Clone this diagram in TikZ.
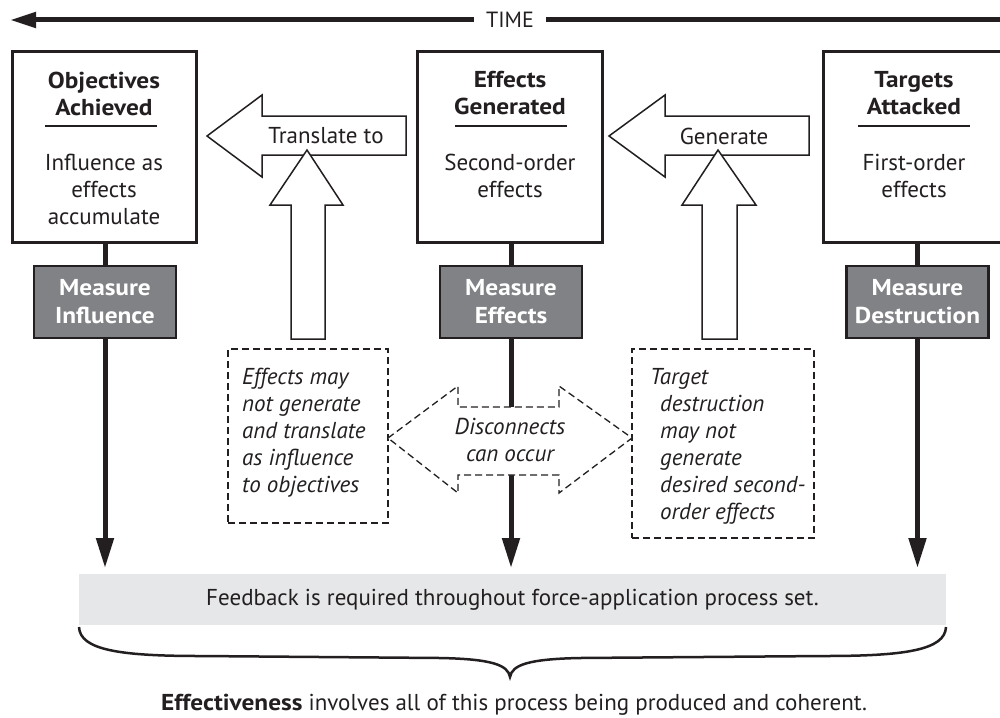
\documentclass[tikz,border=0pt]{standalone}
\usepackage{fontspec}
\setmainfont{PT Sans}[BoldFeatures={FakeStretch=1.1}]
\usetikzlibrary{arrows.meta}
\definecolor{ink}{HTML}{231F20}
\definecolor{measuregray}{HTML}{808285}
\definecolor{feedgray}{HTML}{E6E7E8}
\begin{document}
\begin{tikzpicture}[x=1pt,y=-1pt,
  txt/.style={font=\fontsize{23}{27}\selectfont, text=ink, inner sep=0pt, align=center},
  titletxt/.style={txt, font=\fontsize{23}{27}\selectfont\bfseries},
  notetxt/.style={txt, font=\fontsize{23}{27}\selectfont\itshape, align=left},
  stagebox/.style={draw=ink, line width=3pt, fill=white, minimum height=190pt},
  measurebox/.style={draw=ink, line width=2.5pt, fill=measuregray, text=white,
    font=\fontsize{23}{28}\selectfont\bfseries, align=center, inner sep=0pt,
    minimum width=142pt, minimum height=72pt},
  blockarrow/.style={draw=ink, line width=1.5pt, fill=white, line join=miter},
  dashline/.style={draw=ink, line width=1.3pt, dash pattern=on 7pt off 4pt},
  stem/.style={draw=ink, line width=5pt},
  downtip/.style={stem, -{Triangle[length=30pt,width=17pt]}},
  rule/.style={draw=ink, line width=2pt}
]
\useasboundingbox (0,0) rectangle (1000,717);

% ---- time axis ----
\node[txt, font=\fontsize{22}{27}\selectfont, inner xsep=12pt] (time) at (510,20) {TIME};
\draw[stem, -{Triangle[length=26pt,width=15pt]}] (time.west) -- (10,20);
\draw[stem] (time.east) -- (1000,20);

% ---- stage boxes ----
\node[stagebox, minimum width=184pt] (b1) at (104,147) {};
\node[stagebox, minimum width=185pt] (b2) at (509.5,147) {};
\node[stagebox, minimum width=182pt] (b3) at (914,147) {};

\node[titletxt] (t1) at (104,93.5) {Objectives\\Achieved};
\node[titletxt] (t2) at (510,93.5) {Effects\\Generated};
\node[titletxt] (t3) at (914,93.5) {Targets\\Attacked};
\draw[rule] (45,126) -- (157,126);
\draw[rule] (455,126) -- (567,126);
\draw[rule] (858,126) -- (970,126);

\node[txt] (d1) at (104,189.5) {Influence as\\effects\\accumulate};
\node[txt] (d2) at (510,175.5) {Second-order\\effects};
\node[txt] (d3) at (914,175.5) {First-order\\effects};

% ---- measurement boxes ----
\node[measurebox] (m1) at (105,302) {Measure\\Influence};
\node[measurebox] (m2) at (511,302) {Measure\\Effects};
\node[measurebox] (m3) at (917.5,302) {Measure\\Destruction};

\draw[stem] (m1.north |- b1.south) -- (m1.north);
\draw[stem] (m2.north |- b2.south) -- (m2.north);
\draw[stem] (m3.north |- b3.south) -- (m3.north);

% ---- feedback bar and the arrows into it ----
\node[fill=feedgray, minimum width=867pt, minimum height=51pt, inner sep=0pt] (fb) at (512.5,599.5) {};
\node[txt] (fbtext) at (fb.center) {Feedback is required throughout force-application process set.};
\coordinate (tipline) at (0,568);
\draw[downtip] (m1.south) -- (m1.south |- tipline);
\draw[downtip] (m2.south) -- (m2.south |- tipline);
\draw[downtip] (m3.south) -- (m3.south |- tipline);

% ---- block arrows between the stages ----
\draw[blockarrow] (207,136) -- (262,95) -- (262,116) -- (406,116) -- (406,155)
  -- (262,155) -- (262,177) -- cycle;
\node[txt] (a1) at (326,136) {Translate to};
\draw[blockarrow] (307,150) -- (343,205) -- (325,205) -- (325,339) -- (291,339)
  -- (291,205) -- (270,205) -- cycle;

\draw[blockarrow] (609,136) -- (665,95) -- (665,116) -- (809,116) -- (809,155)
  -- (665,155) -- (665,177) -- cycle;
\node[txt] (a2) at (724,136) {Generate};
\draw[blockarrow] (718,150) -- (756,205) -- (737,205) -- (737,339) -- (702,339)
  -- (702,205) -- (682,205) -- cycle;

% ---- notes ----
\node[dashline, minimum width=160pt, minimum height=174pt, inner sep=0pt] (n1) at (308,436) {};
\node[notetxt, anchor=west] (n1text) at (242,432.5)
  {Effects may\\not generate\\and translate\\as influence\\to objectives};
\node[dashline, minimum width=182pt, minimum height=189pt, inner sep=0pt] (n2) at (723,443.5) {};
\node[notetxt, anchor=west] (n2text) at (650,446)
  {Target\\\hspace*{10pt}destruction\\\hspace*{10pt}may not\\\hspace*{10pt}generate\\\hspace*{10pt}desired second-\\\hspace*{10pt}order effects};

% ---- disconnect double arrow ----
\draw[dashline, fill=white] (388,438) -- (458,386) -- (458,407) -- (559,407) -- (559,386)
  -- (632,438) -- (559,493) -- (559,475) -- (458,475) -- (458,493) -- cycle;
\node[txt, font=\fontsize{23}{27}\selectfont\itshape] (dc) at (510,440) {Disconnects\\can occur};

% ---- brace and conclusion ----
\draw[draw=ink, line width=2.5pt]
  (79,627) .. controls (80,650) and (120,656) .. (200,656)
  -- (440,658) .. controls (492,659) and (508,665) .. (510,677)
  .. controls (512,665) and (528,659) .. (580,658)
  -- (825,656) .. controls (905,656) and (945,650) .. (946,627);
\node[txt] (eff) at (514,705) {\textbf{Effectiveness} involves all of this process being produced and coherent.};
\end{tikzpicture}
\end{document}
